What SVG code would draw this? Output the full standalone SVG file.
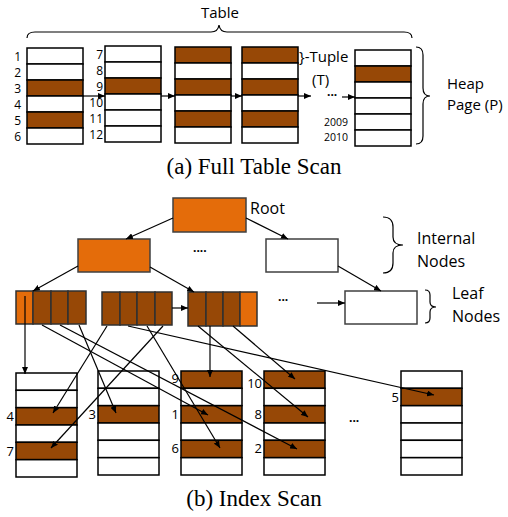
<svg xmlns="http://www.w3.org/2000/svg" width="508" height="517" viewBox="0 0 508 517">
<style>
.w{fill:#ffffff;stroke:#000;stroke-width:1.5}
.b{fill:#974806;stroke:#000;stroke-width:1.5}
.o{fill:#E46C0A;stroke:#404040;stroke-width:1.5}
.lb{fill:#974806;stroke:#303030;stroke-width:1.5}
.lo{fill:#E46C0A;stroke:#303030;stroke-width:1.5}
.n{fill:#fff;stroke:#404040;stroke-width:1.5}
.t{font-family:"Open Sans","Liberation Sans",Arial,sans-serif;fill:#000}
.s12{font-size:12px}
.s13{font-size:13px}
.s11{font-size:10.5px}
.s15{font-size:15px}
.s16{font-size:16px}
.cap{font-family:"Liberation Serif","Times New Roman",serif;font-size:23px;fill:#000}
.br{fill:none;stroke:#000;stroke-width:1.2}
.c{stroke:#000;stroke-width:1.2;fill:none}
</style>
<defs>
<marker id="ah" markerUnits="userSpaceOnUse" markerWidth="8" markerHeight="6" refX="7" refY="3" orient="auto">
<path d="M0,0 L7,3 L0,6 z" fill="#000"/>
</marker>
</defs>

<!-- (a) Full Table Scan -->
<text class="t s15" x="201" y="18">Table</text>
<path class="br" d="M27,38 Q27,32 35,32 L211,32 Q218,32 219,25 Q220,32 227,32 L404,32 Q412,32 412,38"/>

<g id="pageA1">
<rect class="w" x="27" y="48" width="56" height="16"/>
<rect class="w" x="27" y="64" width="56" height="16"/>
<rect class="b" x="27" y="80" width="56" height="16"/>
<rect class="w" x="27" y="96" width="56" height="16"/>
<rect class="b" x="27" y="112" width="56" height="16"/>
<rect class="w" x="27" y="128" width="56" height="16"/>
<g class="t s12" text-anchor="end">
<text x="21" y="61">1</text><text x="21" y="77">2</text><text x="21" y="93">3</text>
<text x="21" y="109">4</text><text x="21" y="125">5</text><text x="21" y="141">6</text>
</g>
</g>

<g id="pageA2">
<rect class="w" x="105" y="46" width="56" height="16"/>
<rect class="w" x="105" y="62" width="56" height="16"/>
<rect class="b" x="105" y="78" width="56" height="16"/>
<rect class="w" x="105" y="94" width="56" height="16"/>
<rect class="w" x="105" y="110" width="56" height="16"/>
<rect class="w" x="105" y="126" width="56" height="16"/>
<g class="t s12" text-anchor="end">
<text x="103" y="59">7</text><text x="103" y="75">8</text><text x="103" y="91">9</text>
<text x="103" y="107">10</text><text x="103" y="123">11</text><text x="103" y="139">12</text>
</g>
</g>

<g id="pageA3">
<rect class="b" x="175" y="47" width="56" height="16"/>
<rect class="w" x="175" y="63" width="56" height="16"/>
<rect class="b" x="175" y="79" width="56" height="16"/>
<rect class="w" x="175" y="95" width="56" height="16"/>
<rect class="b" x="175" y="111" width="56" height="16"/>
<rect class="w" x="175" y="127" width="56" height="16"/>
</g>

<g id="pageA4">
<rect class="b" x="242" y="47" width="56" height="16"/>
<rect class="w" x="242" y="63" width="56" height="16"/>
<rect class="b" x="242" y="79" width="56" height="16"/>
<rect class="w" x="242" y="95" width="56" height="16"/>
<rect class="b" x="242" y="111" width="56" height="16"/>
<rect class="w" x="242" y="127" width="56" height="16"/>
</g>

<g id="tupleLabel">
<text class="t s15" x="299" y="62">}-Tuple</text>
<text class="t s15" x="312" y="85">(T)</text>
</g>

<text class="t s12" x="327" y="96" font-weight="bold">...</text>

<g id="pageP">
<rect class="w" x="355" y="50" width="56" height="16"/>
<rect class="b" x="355" y="66" width="56" height="16"/>
<rect class="w" x="355" y="82" width="56" height="16"/>
<rect class="w" x="355" y="98" width="56" height="16"/>
<rect class="w" x="355" y="114" width="56" height="16"/>
<rect class="w" x="355" y="130" width="56" height="16"/>
<g class="t s11" text-anchor="end">
<text x="348" y="126">2009</text><text x="348" y="141">2010</text>
</g>
</g>

<g id="heapPageLabel">
<path class="br" d="M416,47 Q423,47 423,55 L423,88 Q423,96 430,96 Q423,96 423,104 L423,136 Q423,144 416,144"/>
<text class="t s15" x="447" y="89">Heap</text>
<text class="t s15" x="447" y="110">Page (P)</text>
</g>

<g id="scanArrows">
<line class="c" x1="83" y1="96" x2="105" y2="96" marker-end="url(#ah)"/>
<line class="c" x1="161" y1="96" x2="175" y2="96" marker-end="url(#ah)"/>
<line class="c" x1="231" y1="96" x2="242" y2="96" marker-end="url(#ah)"/>
<line class="c" x1="298" y1="96" x2="311" y2="96" marker-end="url(#ah)"/>
<line class="c" x1="342" y1="97" x2="355" y2="97" marker-end="url(#ah)"/>
</g>

<text class="cap" x="254" y="174" text-anchor="middle">(a) Full Table Scan</text>

<!-- (b) Index Scan -->
<g id="root">
<rect class="o" x="173" y="198" width="73" height="34"/>
<text class="t s16" x="250" y="214">Root</text>
</g>

<g id="internalLeft"><rect class="o" x="78" y="239" width="72" height="33"/></g>
<text class="t s12" x="193" y="252" font-weight="bold">....</text>
<g id="internalRight"><rect class="n" x="266" y="239" width="72" height="33"/></g>

<g id="internalLabel">
<path class="br" d="M383,217 Q393,217 393,227 L393,237 Q393,245 403,245 Q393,245 393,253 L393,263 Q393,273 383,273"/>
<text class="t s16" x="417" y="244">Internal</text>
<text class="t s16" x="417" y="267">Nodes</text>
</g>

<g id="leaf1">
<rect class="lo" x="16" y="291" width="17" height="33"/>
<rect class="lb" x="33" y="291" width="18" height="33"/>
<rect class="lb" x="51" y="291" width="17" height="33"/>
<rect class="lb" x="68" y="291" width="18" height="33"/>
</g>
<g id="leaf2">
<rect class="lb" x="102" y="292" width="18" height="33"/>
<rect class="lb" x="120" y="292" width="17" height="33"/>
<rect class="lb" x="137" y="292" width="18" height="33"/>
<rect class="lb" x="155" y="292" width="17" height="33"/>
</g>
<g id="leaf3">
<rect class="lb" x="188" y="292" width="18" height="34"/>
<rect class="lb" x="206" y="292" width="17" height="34"/>
<rect class="lb" x="223" y="292" width="17" height="34"/>
<rect class="lo" x="240" y="292" width="17" height="34"/>
</g>
<text class="t s12" x="278" y="301" font-weight="bold">...</text>
<g id="leafRight"><rect class="n" x="345" y="291" width="72" height="33"/></g>

<g id="leafLabel">
<path class="br" d="M425,290 Q430,290 430,295 L430,302 Q430,307 436,307 Q430,307 430,312 L430,318 Q430,323 425,323"/>
<text class="t s16" x="452" y="299">Leaf</text>
<text class="t s16" x="452" y="322">Nodes</text>
</g>

<g id="pageB1">
<rect class="w" x="16" y="373" width="61" height="17.3"/>
<rect class="w" x="16" y="390.3" width="61" height="17.3"/>
<rect class="b" x="16" y="407.7" width="61" height="17.3"/>
<rect class="w" x="16" y="425" width="61" height="17.3"/>
<rect class="b" x="16" y="442.3" width="61" height="17.3"/>
<rect class="w" x="16" y="459.7" width="61" height="17.3"/>
<text class="t s13" x="14" y="421" text-anchor="end">4</text>
<text class="t s13" x="14" y="456" text-anchor="end">7</text>
</g>

<g id="pageB2">
<rect class="w" x="98" y="371" width="61" height="17.3"/>
<rect class="w" x="98" y="388.3" width="61" height="17.3"/>
<rect class="b" x="98" y="405.7" width="61" height="17.3"/>
<rect class="w" x="98" y="423" width="61" height="17.3"/>
<rect class="w" x="98" y="440.3" width="61" height="17.3"/>
<rect class="w" x="98" y="457.7" width="61" height="17.3"/>
<text class="t s13" x="96" y="419" text-anchor="end">3</text>
</g>

<g id="pageB3">
<rect class="b" x="181" y="371" width="61" height="17.3"/>
<rect class="w" x="181" y="388.3" width="61" height="17.3"/>
<rect class="b" x="181" y="405.7" width="61" height="17.3"/>
<rect class="w" x="181" y="423" width="61" height="17.3"/>
<rect class="b" x="181" y="440.3" width="61" height="17.3"/>
<rect class="w" x="181" y="457.7" width="61" height="17.3"/>
<text class="t s13" x="179" y="383" text-anchor="end">9</text>
<text class="t s13" x="179" y="419" text-anchor="end">1</text>
<text class="t s13" x="179" y="453" text-anchor="end">6</text>
</g>

<g id="pageB4">
<rect class="b" x="264" y="371" width="61" height="17.3"/>
<rect class="w" x="264" y="388.3" width="61" height="17.3"/>
<rect class="b" x="264" y="405.7" width="61" height="17.3"/>
<rect class="w" x="264" y="423" width="61" height="17.3"/>
<rect class="b" x="264" y="440.3" width="61" height="17.3"/>
<rect class="w" x="264" y="457.7" width="61" height="17.3"/>
<text class="t s13" x="262" y="388" text-anchor="end">10</text>
<text class="t s13" x="262" y="419" text-anchor="end">8</text>
<text class="t s13" x="262" y="453" text-anchor="end">2</text>
</g>

<text class="t s12" x="349" y="422" font-weight="bold">...</text>

<g id="pageB5">
<rect class="w" x="401" y="371" width="61" height="17.3"/>
<rect class="b" x="401" y="388.3" width="61" height="17.3"/>
<rect class="w" x="401" y="405.7" width="61" height="17.3"/>
<rect class="w" x="401" y="423" width="61" height="17.3"/>
<rect class="w" x="401" y="440.3" width="61" height="17.3"/>
<rect class="w" x="401" y="457.7" width="61" height="17.3"/>
<text class="t s13" x="399" y="402" text-anchor="end">5</text>
</g>

<g id="connectors">
<line class="c" x1="173" y1="218" x2="126" y2="239" marker-end="url(#ah)"/>
<line class="c" x1="246" y1="218" x2="288" y2="239" marker-end="url(#ah)"/>
<line class="c" x1="78" y1="266" x2="33" y2="291" marker-end="url(#ah)"/>
<line class="c" x1="150" y1="267" x2="194" y2="292" marker-end="url(#ah)"/>
<line class="c" x1="338" y1="266" x2="381" y2="291" marker-end="url(#ah)"/>
<line class="c" x1="172" y1="308" x2="188" y2="308" marker-end="url(#ah)"/>
<line class="c" x1="317" y1="303" x2="345" y2="303" marker-end="url(#ah)"/>

<line class="c" x1="25" y1="296" x2="25" y2="374" marker-end="url(#ah)"/>
<line class="c" x1="42" y1="325" x2="208" y2="415" marker-end="url(#ah)"/>
<line class="c" x1="60" y1="325" x2="297" y2="449" marker-end="url(#ah)"/>
<line class="c" x1="79" y1="325" x2="116" y2="413" marker-end="url(#ah)"/>
<line class="c" x1="107" y1="326" x2="53" y2="413" marker-end="url(#ah)"/>
<line class="c" x1="128" y1="326" x2="434" y2="395" marker-end="url(#ah)"/>
<line class="c" x1="147" y1="326" x2="220" y2="448" marker-end="url(#ah)"/>
<line class="c" x1="163" y1="326" x2="51" y2="448" marker-end="url(#ah)"/>
<line class="c" x1="198" y1="326" x2="308" y2="417" marker-end="url(#ah)"/>
<line class="c" x1="210" y1="326" x2="210" y2="377" marker-end="url(#ah)"/>
<line class="c" x1="233" y1="326" x2="295" y2="379" marker-end="url(#ah)"/>
</g>

<text class="cap" x="254" y="506" text-anchor="middle">(b) Index Scan</text>
</svg>
